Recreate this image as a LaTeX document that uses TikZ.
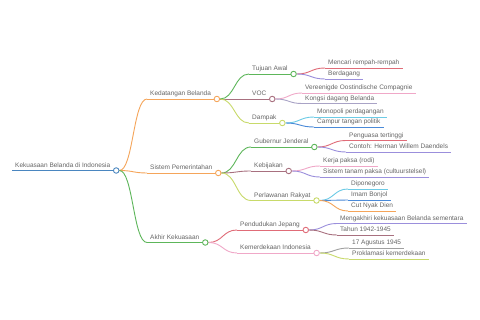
\documentclass[tikz,border=0pt]{standalone}
\usepackage{fontspec}
\setmainfont{Liberation Sans}
\usetikzlibrary{calc}
\pgfdeclarelayer{bg}
\pgfdeclarelayer{paper}
\pgfsetlayers{paper,bg,main}
\definecolor{txt}{HTML}{666666}
\definecolor{cblue}{HTML}{4A86C0}
\definecolor{corange}{HTML}{F5A55A}
\definecolor{cgreen}{HTML}{5DB65A}
\definecolor{cmauve}{HTML}{A8707F}
\definecolor{cyg}{HTML}{C8DA6A}
\definecolor{cred}{HTML}{E06C78}
\definecolor{cpurple}{HTML}{9B8FDC}
\definecolor{cpink}{HTML}{F0A8C8}
\definecolor{cgp}{HTML}{A9A3C6}
\definecolor{ccyan}{HTML}{6CCBE6}
\definecolor{cbl}{HTML}{4A8AD8}
\definecolor{cgray}{HTML}{A0A0A0}
\tikzset{
  x=1pt, y=-1pt,
  lbl/.style={font=\fontsize{6.5}{7}\selectfont, text=txt, inner xsep=3pt, inner ysep=3.2pt, text depth=0pt, anchor=south west},
  dot/.style={circle, fill=white, minimum size=5.5pt, inner sep=0pt, line width=0.9pt},
  ln/.style={line width=0.9pt},
}
\newcommand\mmnode[5]{%
  \node[lbl] (#1) at (#2,#3) {#5};
  \begin{pgfonlayer}{bg}\draw[ln,#4] (#1.south west) -- (#1.south east);\end{pgfonlayer}}
\newcommand\mmdot[2]{\node[dot,draw=#2] (#1c) at ($(#1.south east)+(2.75,0)$) {};}
\newcommand\mmconn[3]{%
  \begin{pgfonlayer}{bg}\draw[ln,#3] let \p1=(#1c.east), \p2=(#2.south west) in
    (\p1) .. controls ({0.5*\x1+0.5*\x2},\y1) and ({0.5*\x1+0.5*\x2},\y2) .. (\p2);\end{pgfonlayer}}
\begin{document}
\begin{tikzpicture}
\begin{pgfonlayer}{paper}\fill[white] (0,0) rectangle (480,320);\end{pgfonlayer}
\useasboundingbox (0,0) rectangle (480,320);
% root
\node[lbl] (r) at (12,170.5) {Kekuasaan Belanda di Indonesia};
\begin{pgfonlayer}{bg}\draw[line width=1.2pt,cblue] (r.south west) -- (r.south east);\end{pgfonlayer}
\mmdot{r}{cblue}
% level 1
\mmnode{kb}{147}{99}{corange}{Kedatangan Belanda}
\mmnode{sp}{147}{173}{corange}{Sistem Pemerintahan}
\mmnode{ak}{147}{242.5}{cgreen}{Akhir Kekuasaan}
\mmdot{kb}{corange}\mmdot{sp}{corange}\mmdot{ak}{cgreen}
\mmconn{r}{kb}{corange}\mmconn{r}{sp}{corange}\mmconn{r}{ak}{cgreen}
% level 2
\mmnode{ta}{249}{74}{cgreen}{Tujuan Awal}
\mmnode{voc}{249}{99}{cmauve}{VOC}
\mmnode{dp}{249}{123}{cyg}{Dampak}
\mmnode{gj}{251}{147}{cgreen}{Gubernur Jenderal}
\mmnode{kj}{251}{171}{cmauve}{Kebijakan}
\mmnode{pr}{251}{200.5}{cyg}{Perlawanan Rakyat}
\mmnode{pj}{237}{230}{cred}{Pendudukan Jepang}
\mmnode{ki}{237}{253}{cpink}{Kemerdekaan Indonesia}
\mmdot{ta}{cgreen}\mmdot{voc}{cmauve}\mmdot{dp}{cyg}
\mmdot{gj}{cgreen}\mmdot{kj}{cmauve}\mmdot{pr}{cyg}
\mmdot{pj}{cred}\mmdot{ki}{cpink}
\mmconn{kb}{ta}{cgreen}\mmconn{kb}{voc}{cmauve}\mmconn{kb}{dp}{cyg}
\mmconn{sp}{gj}{cgreen}\mmconn{sp}{kj}{cmauve}\mmconn{sp}{pr}{cyg}
\mmconn{ak}{pj}{cred}\mmconn{ak}{ki}{cpink}
% leaves
\mmnode{l1}{325}{68}{cred}{Mencari rempah-rempah}
\mmnode{l2}{325}{79}{cpurple}{Berdagang}
\mmconn{ta}{l1}{cred}\mmconn{ta}{l2}{cpurple}
\mmnode{l3}{302}{93}{cpink}{Vereenigde Oostindische Compagnie}
\mmnode{l4}{302}{103.5}{cgp}{Kongsi dagang Belanda}
\mmconn{voc}{l3}{cpink}\mmconn{voc}{l4}{cgp}
\mmnode{l5}{314}{117}{ccyan}{Monopoli perdagangan}
\mmnode{l6}{314}{127}{cbl}{Campur tangan politik}
\mmconn{dp}{l5}{ccyan}\mmconn{dp}{l6}{cbl}
\mmnode{l7}{346}{140.5}{cred}{Penguasa tertinggi}
\mmnode{l8}{346}{152}{cpurple}{Contoh: Herman Willem Daendels}
\mmconn{gj}{l7}{cred}\mmconn{gj}{l8}{cpurple}
\mmnode{l9}{320}{166}{cpink}{Kerja paksa (rodi)}
\mmnode{l10}{320}{177}{cpurple}{Sistem tanam paksa (cultuurstelsel)}
\mmconn{kj}{l9}{cpink}\mmconn{kj}{l10}{cpurple}
\mmnode{l11}{348}{189}{ccyan}{Diponegoro}
\mmnode{l12}{348}{200}{cbl}{Imam Bonjol}
\mmnode{l13}{348}{211}{corange}{Cut Nyak Dien}
\mmconn{pr}{l11}{ccyan}\mmconn{pr}{l12}{cbl}\mmconn{pr}{l13}{corange}
\mmnode{l14}{337}{223.5}{cpurple}{Mengakhiri kekuasaan Belanda sementara}
\mmnode{l15}{337}{235}{cmauve}{Tahun 1942-1945}
\mmconn{pj}{l14}{cpurple}\mmconn{pj}{l15}{cmauve}
\mmnode{l16}{349}{248}{cgray}{17 Agustus 1945}
\mmnode{l17}{349}{259}{cyg}{Proklamasi kemerdekaan}
\mmconn{ki}{l16}{cgray}\mmconn{ki}{l17}{cyg}
\end{tikzpicture}
\end{document}
